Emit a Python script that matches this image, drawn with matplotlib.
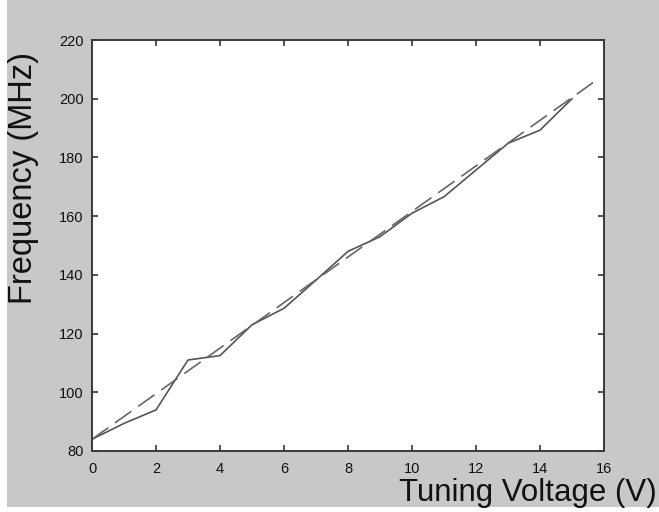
import matplotlib
matplotlib.use("Agg")
import matplotlib.pyplot as plt
from matplotlib.patches import Rectangle

# measured tuning curve (V -> MHz)
voltage = [0, 1, 2, 3, 4, 5, 6, 7, 8, 9, 10, 11, 12, 13, 14, 15]
frequency = [84, 89.4, 94, 111, 112.5, 123, 128.6, 138.2, 148, 153,
             161, 166.6, 175.7, 184.8, 189.3, 200]

# linear fit endpoints (dashed)
fit_voltage = [0, 15.8]
fit_frequency = [84, 206.6]

x_ticks = [0, 2, 4, 6, 8, 10, 12, 14, 16]
y_ticks = [80, 100, 120, 140, 160, 180, 200, 220]

plt.rcParams['font.family'] = ['Liberation Sans Narrow', 'Liberation Sans', 'DejaVu Sans']

fig = plt.figure(figsize=(6.59, 5.12), dpi=100)
fig.patch.set_facecolor('white')
fig.patches.append(Rectangle((7 / 659, 5 / 512), 1, 1, transform=fig.transFigure,
                             facecolor='#c8c8c8', edgecolor='none', zorder=-10))

ax = fig.add_axes([92 / 659, 1 - 451 / 512, 512 / 659, 411 / 512])
ax.set_facecolor('white')

ax.plot(voltage, frequency, color='#555555', lw=1.2)
ax.plot(fit_voltage, fit_frequency, color='#666666', lw=1.2, dashes=(12, 5))

ax.set_xlim(0, 16)
ax.set_ylim(80, 220)
ax.set_xticks(x_ticks)
ax.set_yticks(y_ticks)
ax.tick_params(direction='in', length=4, width=1.2, top=True, right=True,
               labelsize=10.5, colors='#333333', labelcolor='#111111')
ax.tick_params(axis='x', pad=8)
ax.tick_params(axis='y', pad=6)
for s in ax.spines.values():
    s.set_color('#3a3a3a')
    s.set_linewidth(1.4)

fig.text(657 / 659, 11 / 512, 'Tuning Voltage (V)', ha='right', va='baseline',
         fontsize=22.5, family=['Liberation Sans', 'DejaVu Sans'], color='#111111')
fig.text(24 / 659, 1 - 178 / 512, 'Frequency (MHz)', rotation=90, ha='center', va='center',
         fontsize=23.5, family=['Liberation Sans', 'DejaVu Sans'], color='#111111')

fig.savefig('out.png', dpi=100, facecolor=fig.get_facecolor())
